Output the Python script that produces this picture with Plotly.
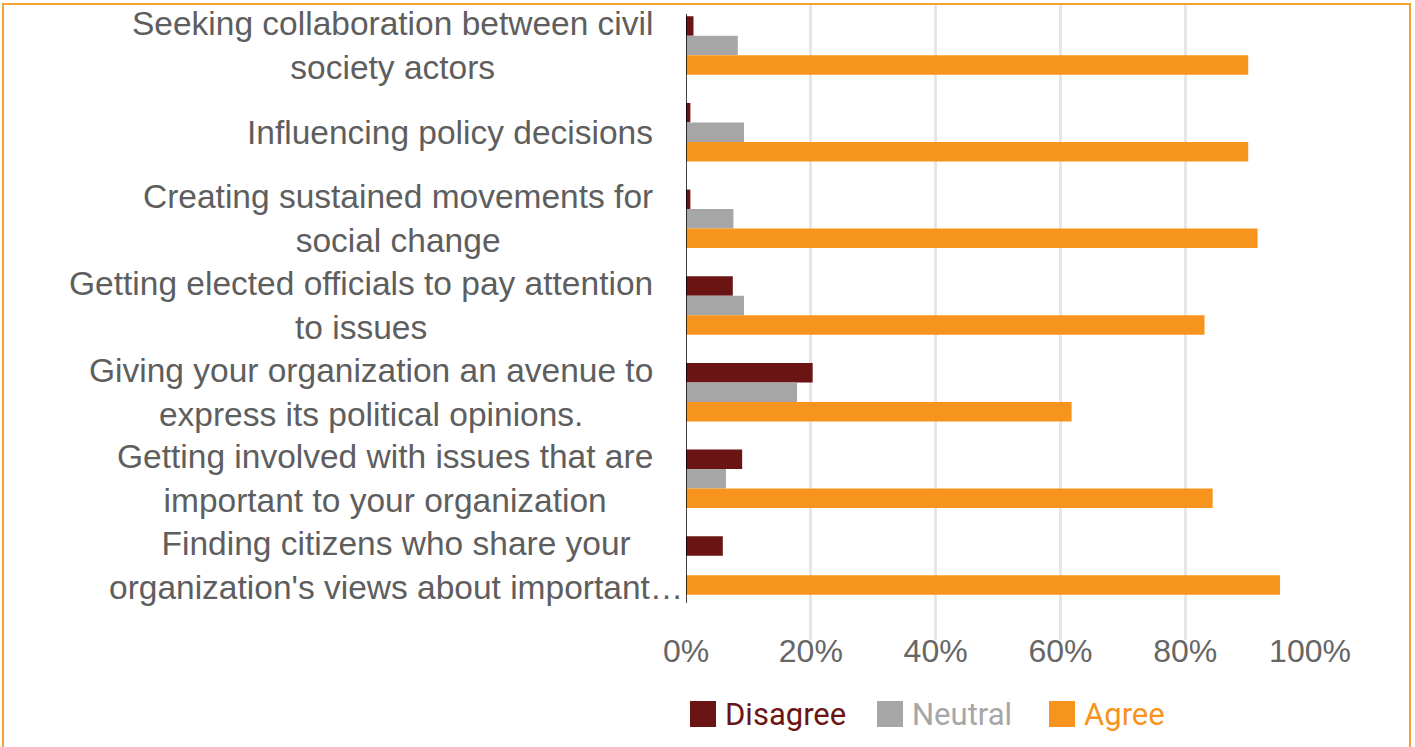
import plotly.graph_objects as go

categories = [
    "Seeking collaboration between civil<br>society actors",
    "Influencing policy decisions",
    "Creating sustained movements for<br>social change",
    "Getting elected officials to pay attention<br>to issues",
    "Giving your organization an avenue to<br>express its political opinions.",
    "Getting involved with issues that are<br>important to your organization",
    "Finding citizens who share your<br>organization's views about important…",
]
series_names = ["Disagree", "Neutral", "Agree"]
disagree = [1.2, 0.7, 0.7, 7.5, 20.3, 9.0, 5.9]
neutral = [8.3, 9.3, 7.6, 9.3, 17.8, 6.4, 0.0]
agree = [90.1, 90.1, 91.6, 83.1, 61.8, 84.4, 95.2]
x_ticks = [0, 20, 40, 60, 80, 100]
x_tick_labels = ["0%", "20%", "40%", "60%", "80%", "100%"]

colors = ["#6B1414", "#A6A6A6", "#F7941D"]
values = [disagree, neutral, agree]

W, H = 1415, 747
L, R, T, B = 686, 1310, 5, 640
pw, ph = R - L, B - T


def px(xpix):
    return (xpix - L) / pw


def py(ypix):
    return (B - ypix) / ph


fig = go.Figure()
for name, vals, col in zip(series_names, values, colors):
    fig.add_trace(go.Bar(
        y=list(range(len(categories))), x=vals, name=name, orientation="h",
        marker=dict(color=col, line=dict(width=0)), showlegend=False,
    ))

# category labels (right-anchored block, lines centred)
annotations = []
for i, cat in enumerate(categories):
    right_edge = 685 if cat.endswith("…") else 655
    annotations.append(dict(
        x=px(right_edge), xref="paper", y=i, yref="y", text=cat, showarrow=False,
        xanchor="right", yanchor="middle", align="center",
        font=dict(family="Liberation Sans, Arial", size=33.5, color="#5E5E5E"),
    ))

shapes = []
# zero axis line
shapes.append(dict(type="line", xref="x", yref="paper", x0=0, x1=0,
                   y0=py(603), y1=py(14), line=dict(color="#000000", width=1.5)))

# manual legend
sw_x = [690, 877, 1049]
tx_x = [723, 910, 1082]
for name, col, sx, tx in zip(series_names, colors, sw_x, tx_x):
    shapes.append(dict(type="rect", xref="paper", yref="paper",
                       x0=px(sx), x1=px(sx + 26), y0=py(727), y1=py(701),
                       fillcolor=col, line=dict(width=0)))
    annotations.append(dict(
        x=px(tx), xref="paper", y=py(714), yref="paper", text=name,
        showarrow=False, xanchor="left", yanchor="middle",
        font=dict(family="Roboto", size=31, color=col),
    ))

# orange frame
shapes.append(dict(type="rect", xref="paper", yref="paper",
                   x0=px(3), x1=px(1410), y0=py(770), y1=py(4),
                   line=dict(color="#F7A033", width=2), fillcolor="rgba(0,0,0,0)",
                   layer="above"))

step = 86.67
top_val = (T - 45.5) / step
bot_val = (B - 45.5) / step

fig.update_layout(
    width=W, height=H,
    margin=dict(l=L, r=W - R, t=T, b=H - B, pad=0),
    paper_bgcolor="white", plot_bgcolor="white",
    barmode="group", bargap=0.325, bargroupgap=0,
    xaxis=dict(range=[0, 100], tickvals=x_ticks, ticktext=x_tick_labels,
               showgrid=True, gridcolor="#E6E6E6", gridwidth=2.5,
               zeroline=False, showline=False, ticks="",
               ticklabelstandoff=-11,
               tickfont=dict(family="Liberation Sans, Arial", size=32, color="#666666"),
               fixedrange=True),
    yaxis=dict(range=[bot_val, top_val], showticklabels=False, showgrid=False,
               zeroline=False, showline=False, ticks="", fixedrange=True),
    annotations=annotations,
    shapes=shapes,
    showlegend=False,
)

fig.write_html("out.html", config={"displayModeBar": False},
               post_script="document.body.style.margin='0';")
